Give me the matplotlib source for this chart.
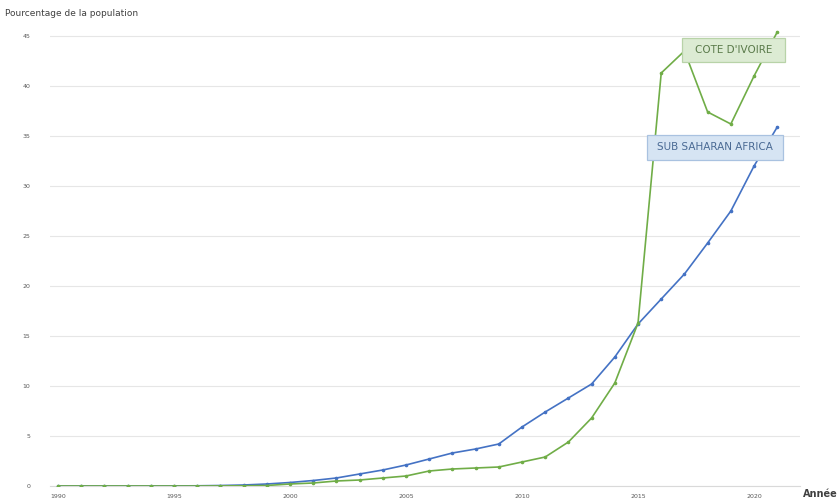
import matplotlib
matplotlib.use("Agg")
import matplotlib.pyplot as plt
from matplotlib.patches import Rectangle

years = list(range(1990, 2022))
ssa = [0.0, 0.0, 0.0, 0.0, 0.0, 0.01, 0.02, 0.05, 0.1, 0.2,
       0.35, 0.55, 0.8, 1.2, 1.6, 2.1, 2.7, 3.3, 3.7, 4.2,
       5.9, 7.4, 8.8, 10.2, 12.9, 16.2, 18.7, 21.2, 24.3, 27.5,
       32.0, 35.9]
civ = [0.0, 0.0, 0.0, 0.0, 0.0, 0.0, 0.0, 0.01, 0.02, 0.05,
       0.2, 0.3, 0.5, 0.6, 0.8, 1.0, 1.5, 1.7, 1.8, 1.9,
       2.4, 2.9, 4.4, 6.8, 10.3, 16.3, 41.3, 43.5, 37.4, 36.2,
       41.0, 45.4]
label_civ = "COTE D'IVOIRE"
label_ssa = "SUB SAHARAN AFRICA"
y_ticks = [0, 5, 10, 15, 20, 25, 30, 35, 40, 45]
x_ticks = [1990, 1995, 2000, 2005, 2010, 2015, 2020]

blue = "#4472c4"
green = "#70ad47"

fig = plt.figure(figsize=(8.4, 5.04), dpi=100)
ax = fig.add_axes([50/840, 18/504, 750/840, 460/504])
ax.set_xlim(1989.66, 2021.98)
ax.set_ylim(0, 46)

ax.plot(years, ssa, color=blue, lw=1.2, marker="o", ms=1.6, zorder=3)
ax.plot(years, civ, color=green, lw=1.2, marker="o", ms=1.6, zorder=3)

ax.set_yticks(y_ticks)
ax.set_xticks(x_ticks)
ax.tick_params(axis="both", length=0, labelsize=4.5, colors="#595959")
ax.tick_params(axis="y", pad=14)
ax.tick_params(axis="x", pad=6)
ax.grid(axis="y", color="#e6e6e6", lw=0.8)
ax.set_axisbelow(True)
for s in ["top", "right", "left"]:
    ax.spines[s].set_visible(False)
ax.spines["bottom"].set_color("#d9d9d9")
ax.spines["bottom"].set_linewidth(0.8)

# label boxes (data-label callouts)
ax.add_patch(Rectangle((2016.9, 42.4), 4.44, 2.4, fc="#dcebd3", ec="#b8d3a8",
                       lw=0.9, zorder=4))
ax.text(2019.12, 43.6, label_civ, ha="center", va="center", fontsize=7.5,
        color="#5a7a4a", zorder=5)
ax.add_patch(Rectangle((2015.39, 32.6), 5.86, 2.5, fc="#d6e4f3", ec="#a9c2e0",
                       lw=0.9, zorder=4))
ax.text(2018.32, 33.85, label_ssa, ha="center", va="center", fontsize=7.5,
        color="#4a6a94", zorder=5)

fig.text(5/840, 1 - 13/504, "Pourcentage de la population", fontsize=6.5,
         color="#404040", va="center", ha="left")
fig.text(838/840, 1 - 494/504, "Année", fontsize=7, color="#404040",
         va="center", ha="right", fontweight="bold")

fig.savefig("out.png", dpi=100)
